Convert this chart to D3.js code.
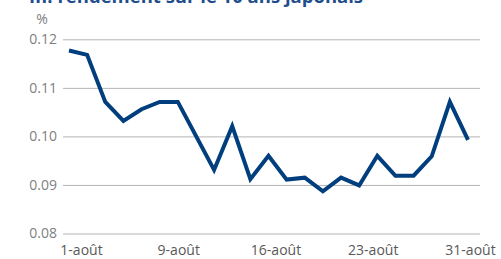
<!DOCTYPE html>
<html>
<head>
<meta charset="utf-8">
<script src="https://cdn.jsdelivr.net/npm/d3@7"></script>
<style>
  body { margin: 0; background: #fff; }
  svg { display: block; font-family: "Open Sans", sans-serif; }
</style>
</head>
<body>
<svg id="chart"></svg>
<script>
// Business days of August
const dates = ["1-août","2-août","3-août","6-août","7-août","8-août","9-août","10-août",
  "13-août","14-août","15-août","16-août","17-août","20-août","21-août","22-août",
  "23-août","24-août","27-août","28-août","29-août","30-août","31-août"];
const yields = [0.1177, 0.1168, 0.1071, 0.1032, 0.1056, 0.1071, 0.1071, 0.1001,
  0.0931, 0.1021, 0.0912, 0.0960, 0.0911, 0.0915, 0.0887, 0.0915,
  0.0899, 0.0960, 0.0919, 0.0919, 0.0959, 0.1071, 0.0993];
const xTickLabels = ["1-août", "9-août", "16-août", "23-août", "31-août"];
const yTicks = [0.08, 0.09, 0.10, 0.11, 0.12];

const width = 501, height = 259;
const svg = d3.select("#chart").attr("width", width).attr("height", height);

const plot = {left: 63, right: 480, top: 39.3, bottom: 233.5};

// Scales
const x = d3.scalePoint().domain(dates).range([69, 468]);
const xLabels = d3.scalePoint().domain(xTickLabels).range([81, 470]);
const y = d3.scaleLinear().domain([0.08, 0.12]).range([plot.bottom, plot.top]);

// Title (cut off at top of picture, as in the original)
svg.append("text")
  .attr("x", 29)
  .attr("y", 3)
  .style("font-size", "18.5px")
  .style("font-weight", "bold")
  .attr("fill", "#1f4e8c")
  .text("III. rendement sur le 10 ans japonais");

// Y axis with gridlines
const yAxis = svg.append("g")
  .attr("transform", `translate(${plot.left},0)`)
  .call(d3.axisLeft(y).tickValues(yTicks).tickFormat(d3.format(".2f"))
    .tickSize(-(plot.right - plot.left)).tickPadding(6));
yAxis.select(".domain").remove();
yAxis.selectAll("line").attr("stroke", "#b4b4b4").attr("stroke-width", 1);
yAxis.selectAll("text").attr("fill", "#808080").style("font-size", "14px")
  .style("font-family", "'Open Sans', sans-serif");

// Unit label
svg.append("text")
  .attr("x", 42)
  .attr("y", 24)
  .attr("text-anchor", "middle")
  .attr("fill", "#808080")
  .style("font-size", "14px")
  .text("%");

// X axis labels
const xAxis = svg.append("g")
  .attr("transform", `translate(0,${plot.bottom})`)
  .call(d3.axisBottom(xLabels).tickSize(0).tickPadding(12));
xAxis.select(".domain").remove();
xAxis.selectAll("text").attr("fill", "#595959").style("font-size", "14px")
  .style("font-family", "'Open Sans', sans-serif");

// Line
const line = d3.line()
  .x((d, i) => x(dates[i]))
  .y(d => y(d));

svg.append("path")
  .datum(yields)
  .attr("fill", "none")
  .attr("stroke", "#003e7e")
  .attr("stroke-width", 4)
  .attr("stroke-linejoin", "miter")
  .attr("d", line);
</script>
</body>
</html>
